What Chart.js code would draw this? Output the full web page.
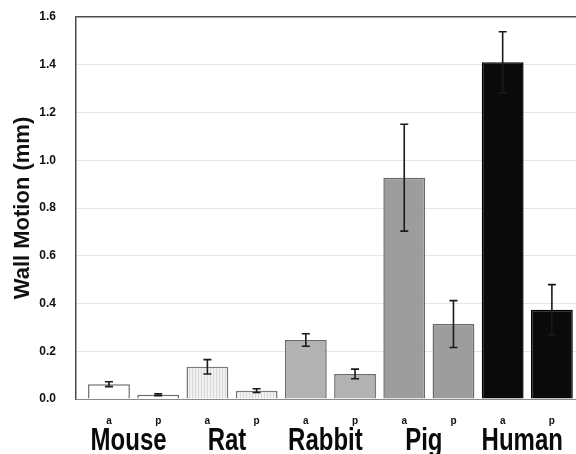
<!DOCTYPE html>
<html>
<head>
<meta charset="utf-8">
<script src="https://cdn.jsdelivr.net/npm/chart.js@4"></script>
<style>
  html, body { margin: 0; padding: 0; background: #fff; }
  #wrap { width: 576px; height: 454px; }
</style>
</head>
<body>
<div id="wrap"><canvas id="chart"></canvas></div>
<script>
// ─── Data ─────────────────────────────────────────────────────────────────────
const SPECIES     = ["Mouse", "Rat", "Rabbit", "Pig", "Human"];
const SIDES       = ["a", "p", "a", "p", "a", "p", "a", "p", "a", "p"];
const WALL_MOTION = [0.062, 0.018, 0.135, 0.035, 0.247, 0.105, 0.927, 0.314, 1.410, 0.374];
const ERROR       = [0.010, 0.004, 0.030, 0.008, 0.026, 0.020, 0.224, 0.098, 0.128, 0.105];

const FONT = "'Liberation Sans', Arial, Helvetica, sans-serif";

// light vertical hatch used for the rat bars
function hatch() {
    const c = document.createElement("canvas");
    c.width = 3; c.height = 8;
    const g = c.getContext("2d");
    g.fillStyle = "#f1f1f1";
    g.fillRect(0, 0, 3, 8);
    g.fillStyle = "#d9d9d9";
    g.fillRect(0, 0, 1, 8);
    return g.createPattern(c, "repeat");
}

const SPECIES_FILL   = ["#ffffff", hatch(), "#b2b2b2", "#9d9d9d", "#0a0a0a"];
const SPECIES_BORDER = ["#6a6a6a", "#7a7a7a", "#6a6a6a", "#6a6a6a", "#000000"];

// ─── Plugins ──────────────────────────────────────────────────────────────────
const errorBars = {
    id: "errorBars",
    afterDatasetsDraw(chart) {
        const { ctx, scales: { y } } = chart;
        const meta = chart.getDatasetMeta(0);
        ctx.save();
        ctx.strokeStyle = "#1a1a1a";
        ctx.lineWidth = 1.6;
        meta.data.forEach((bar, i) => {
            const top = y.getPixelForValue(WALL_MOTION[i] + ERROR[i]);
            const bot = y.getPixelForValue(WALL_MOTION[i] - ERROR[i]);
            ctx.beginPath();
            ctx.moveTo(bar.x, top);     ctx.lineTo(bar.x, bot);
            ctx.moveTo(bar.x - 4, top); ctx.lineTo(bar.x + 4, top);
            ctx.moveTo(bar.x - 4, bot); ctx.lineTo(bar.x + 4, bot);
            ctx.stroke();
        });
        ctx.restore();
    },
};

// big species names under each a/p pair (slightly tall lettering)
const speciesLabels = {
    id: "speciesLabels",
    afterDraw(chart) {
        const { ctx, scales: { x } } = chart;
        ctx.save();
        ctx.fillStyle = "#0a0a0a";
        ctx.font = `bold 24px ${FONT}`;
        ctx.textAlign = "center";
        ctx.textBaseline = "alphabetic";
        SPECIES.forEach((name, k) => {
            const px = x.getPixelForValue(2 * k + 0.5) - 5;
            ctx.save();
            ctx.translate(px, 450);
            ctx.scale(1, 1.3);
            ctx.fillText(name, 0, 0);
            ctx.restore();
        });
        ctx.restore();
    },
};

// ─── Chart ────────────────────────────────────────────────────────────────────
new Chart(document.getElementById("chart"), {
    type: "bar",
    data: {
        datasets: [{
            data: WALL_MOTION.map((v, i) => ({ x: i, y: v })),
            backgroundColor: SIDES.map((_, i) => SPECIES_FILL[Math.floor(i / 2)]),
            borderColor: SIDES.map((_, i) => SPECIES_BORDER[Math.floor(i / 2)]),
            borderWidth: 1.5,
            categoryPercentage: 1,
            barPercentage: 0.85,
        }],
    },
    options: {
        responsive: true,
        maintainAspectRatio: false,
        animation: false,
        layout: { padding: { top: 17, right: 0, left: 0, bottom: 0 } },
        plugins: {
            legend: { display: false },
            tooltip: { enabled: false },
        },
        scales: {
            x: {
                type: "linear",
                offset: false,
                min: -0.67,
                max: 9.49,
                afterFit: s => { s.height = 55; },
                afterBuildTicks: s => { s.ticks = SIDES.map((_, i) => ({ value: i })); },
                grid: { display: false },
                border: { display: false },
                ticks: {
                    padding: 8,
                    autoSkip: false,
                    maxRotation: 0,
                    color: "#111",
                    font: { family: FONT, size: 10, weight: "bold" },
                    callback: (v) => SIDES[v],
                },
            },
            y: {
                min: 0,
                max: 1.6,
                afterFit: s => { s.width = 76; s.paddingTop = 0; s.paddingBottom = 0; },
                border: { display: true, color: "#4a4a4a", width: 1.5 },
                grid: {
                    drawTicks: false,
                    lineWidth: c => (Math.abs(c.tick.value - 1.6) < 1e-6 ? 1.5 : 1),
                    color: c => {
                        const v = c.tick.value;
                        if (Math.abs(v - 1.6) < 1e-6) return "#4a4a4a";
                        if (Math.abs(v) < 1e-6) return "#8a8a8a";
                        return "#e6e6e6";
                    },
                },
                ticks: {
                    stepSize: 0.2,
                    padding: 20,
                    color: "#111",
                    font: { family: FONT, size: 12, weight: "bold" },
                    callback: v => v.toFixed(1),
                },
                title: {
                    display: true,
                    text: "Wall Motion (mm)",
                    color: "#111",
                    font: { family: FONT, size: 22, weight: "bold" },
                    padding: { top: 10, bottom: 0 },
                },
            },
        },
    },
    plugins: [errorBars, speciesLabels],
});
</script>
</body>
</html>
